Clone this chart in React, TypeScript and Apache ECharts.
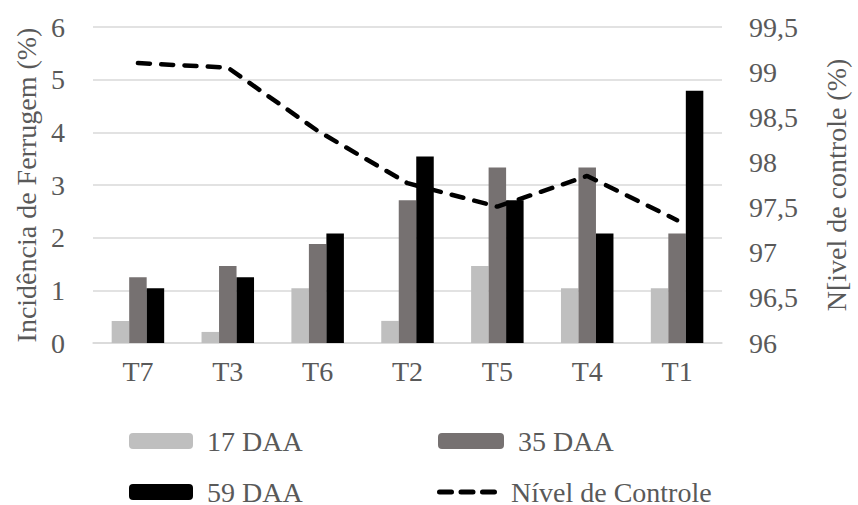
import React, { useEffect, useRef } from "react";
import * as echarts from "echarts";

const categories = ["T7", "T3", "T6", "T2", "T5", "T4", "T1"];
const daa17 = [0.42, 0.21, 1.04, 0.42, 1.46, 1.04, 1.04];
const daa35 = [1.25, 1.46, 1.88, 2.71, 3.33, 3.33, 2.08];
const daa59 = [1.04, 1.25, 2.08, 3.54, 2.71, 2.08, 4.79];
const nivelControle = [99.1, 99.05, 98.35, 97.77, 97.51, 97.85, 97.36];

const FONT = "Liberation Serif";
const FS = 28;
const TXT = "#595959";

export default function App() {
  const ref = useRef<HTMLDivElement>(null);
  useEffect(() => {
    document.body.style.margin = "0";
    if (!ref.current) return;
    const chart = echarts.init(ref.current, undefined, { renderer: "svg" });
    const legendText = {
      color: TXT,
      fontFamily: FONT,
      fontSize: FS,
      padding: [0, 0, 0, 9],
    };
    chart.setOption({
      animation: false,
      grid: { left: 93, right: 126, top: 27, bottom: 162, containLabel: false },
      legend: [
        {
          data: ["17 DAA"], left: 129, top: 427, padding: 0, itemWidth: 64, itemHeight: 16,
          textStyle: legendText,
        },
        {
          data: ["35 DAA"], left: 438, top: 427, padding: 0, itemWidth: 66, itemHeight: 16,
          textStyle: legendText,
        },
        {
          data: ["59 DAA"], left: 129, top: 478, padding: 0, itemWidth: 64, itemHeight: 16,
          textStyle: legendText,
        },
        {
          data: [
            {
              name: "Nível de Controle",
              icon: "path://M2.5,0H14.5A2.5,2.5,0,0,1,14.5,5H2.5A2.5,2.5,0,0,1,2.5,0Z M24,0H36A2.5,2.5,0,0,1,36,5H24A2.5,2.5,0,0,1,24,0Z M45.5,0H57.5A2.5,2.5,0,0,1,57.5,5H45.5A2.5,2.5,0,0,1,45.5,0Z",
            },
          ],
          left: 437, top: 478, padding: 0, itemWidth: 62, itemHeight: 5,
          itemStyle: { color: "#000000" },
          textStyle: { ...legendText, padding: [0, 0, 0, 8] },
        },
      ],
      xAxis: {
        type: "category",
        data: categories,
        axisLine: { lineStyle: { color: "#D9D9D9", width: 1.5 } },
        axisTick: { show: false },
        axisLabel: { color: TXT, fontFamily: FONT, fontSize: FS, margin: 14 },
      },
      yAxis: [
        {
          type: "value",
          min: 0,
          max: 6,
          interval: 1,
          name: "Incidência de Ferrugem (%)",
          nameLocation: "middle",
          nameGap: 51,
          nameTextStyle: { color: TXT, fontFamily: FONT, fontSize: FS },
          axisLine: { show: false },
          axisTick: { show: false },
          axisLabel: { color: TXT, fontFamily: FONT, fontSize: FS, margin: 28 },
          splitLine: { lineStyle: { color: "#D9D9D9", width: 1.5 } },
        },
        {
          type: "value",
          min: 96,
          max: 99.5,
          interval: 0.5,
          position: "right",
          name: "N[ivel de controle (%)",
          nameLocation: "middle",
          nameGap: 100,
          nameTextStyle: { color: TXT, fontFamily: FONT, fontSize: FS },
          axisLine: { show: false },
          axisTick: { show: false },
          axisLabel: {
            color: TXT,
            fontFamily: FONT,
            fontSize: FS,
            margin: 27,
            formatter: (v: number) => String(v).replace(".", ","),
          },
          splitLine: { show: false },
        },
      ],
      series: [
        {
          name: "17 DAA", type: "bar", data: daa17, barWidth: 17.5, barGap: "0%",
          itemStyle: { color: "#BFBFBF" },
        },
        {
          name: "35 DAA", type: "bar", data: daa35, barWidth: 17.5, barGap: "0%",
          itemStyle: { color: "#767171" },
        },
        {
          name: "59 DAA", type: "bar", data: daa59, barWidth: 17.5, barGap: "0%",
          itemStyle: { color: "#000000" },
        },
        {
          name: "Nível de Controle", type: "line", yAxisIndex: 1, data: nivelControle,
          symbol: "none", z: 5,
          lineStyle: { color: "#000000", width: 4.5, type: [12, 11.3], cap: "round" },
          itemStyle: { color: "#000000" },
        },
      ],
    });
    return () => chart.dispose();
  }, []);
  return <div ref={ref} style={{ width: 858, height: 505 }} />;
}
